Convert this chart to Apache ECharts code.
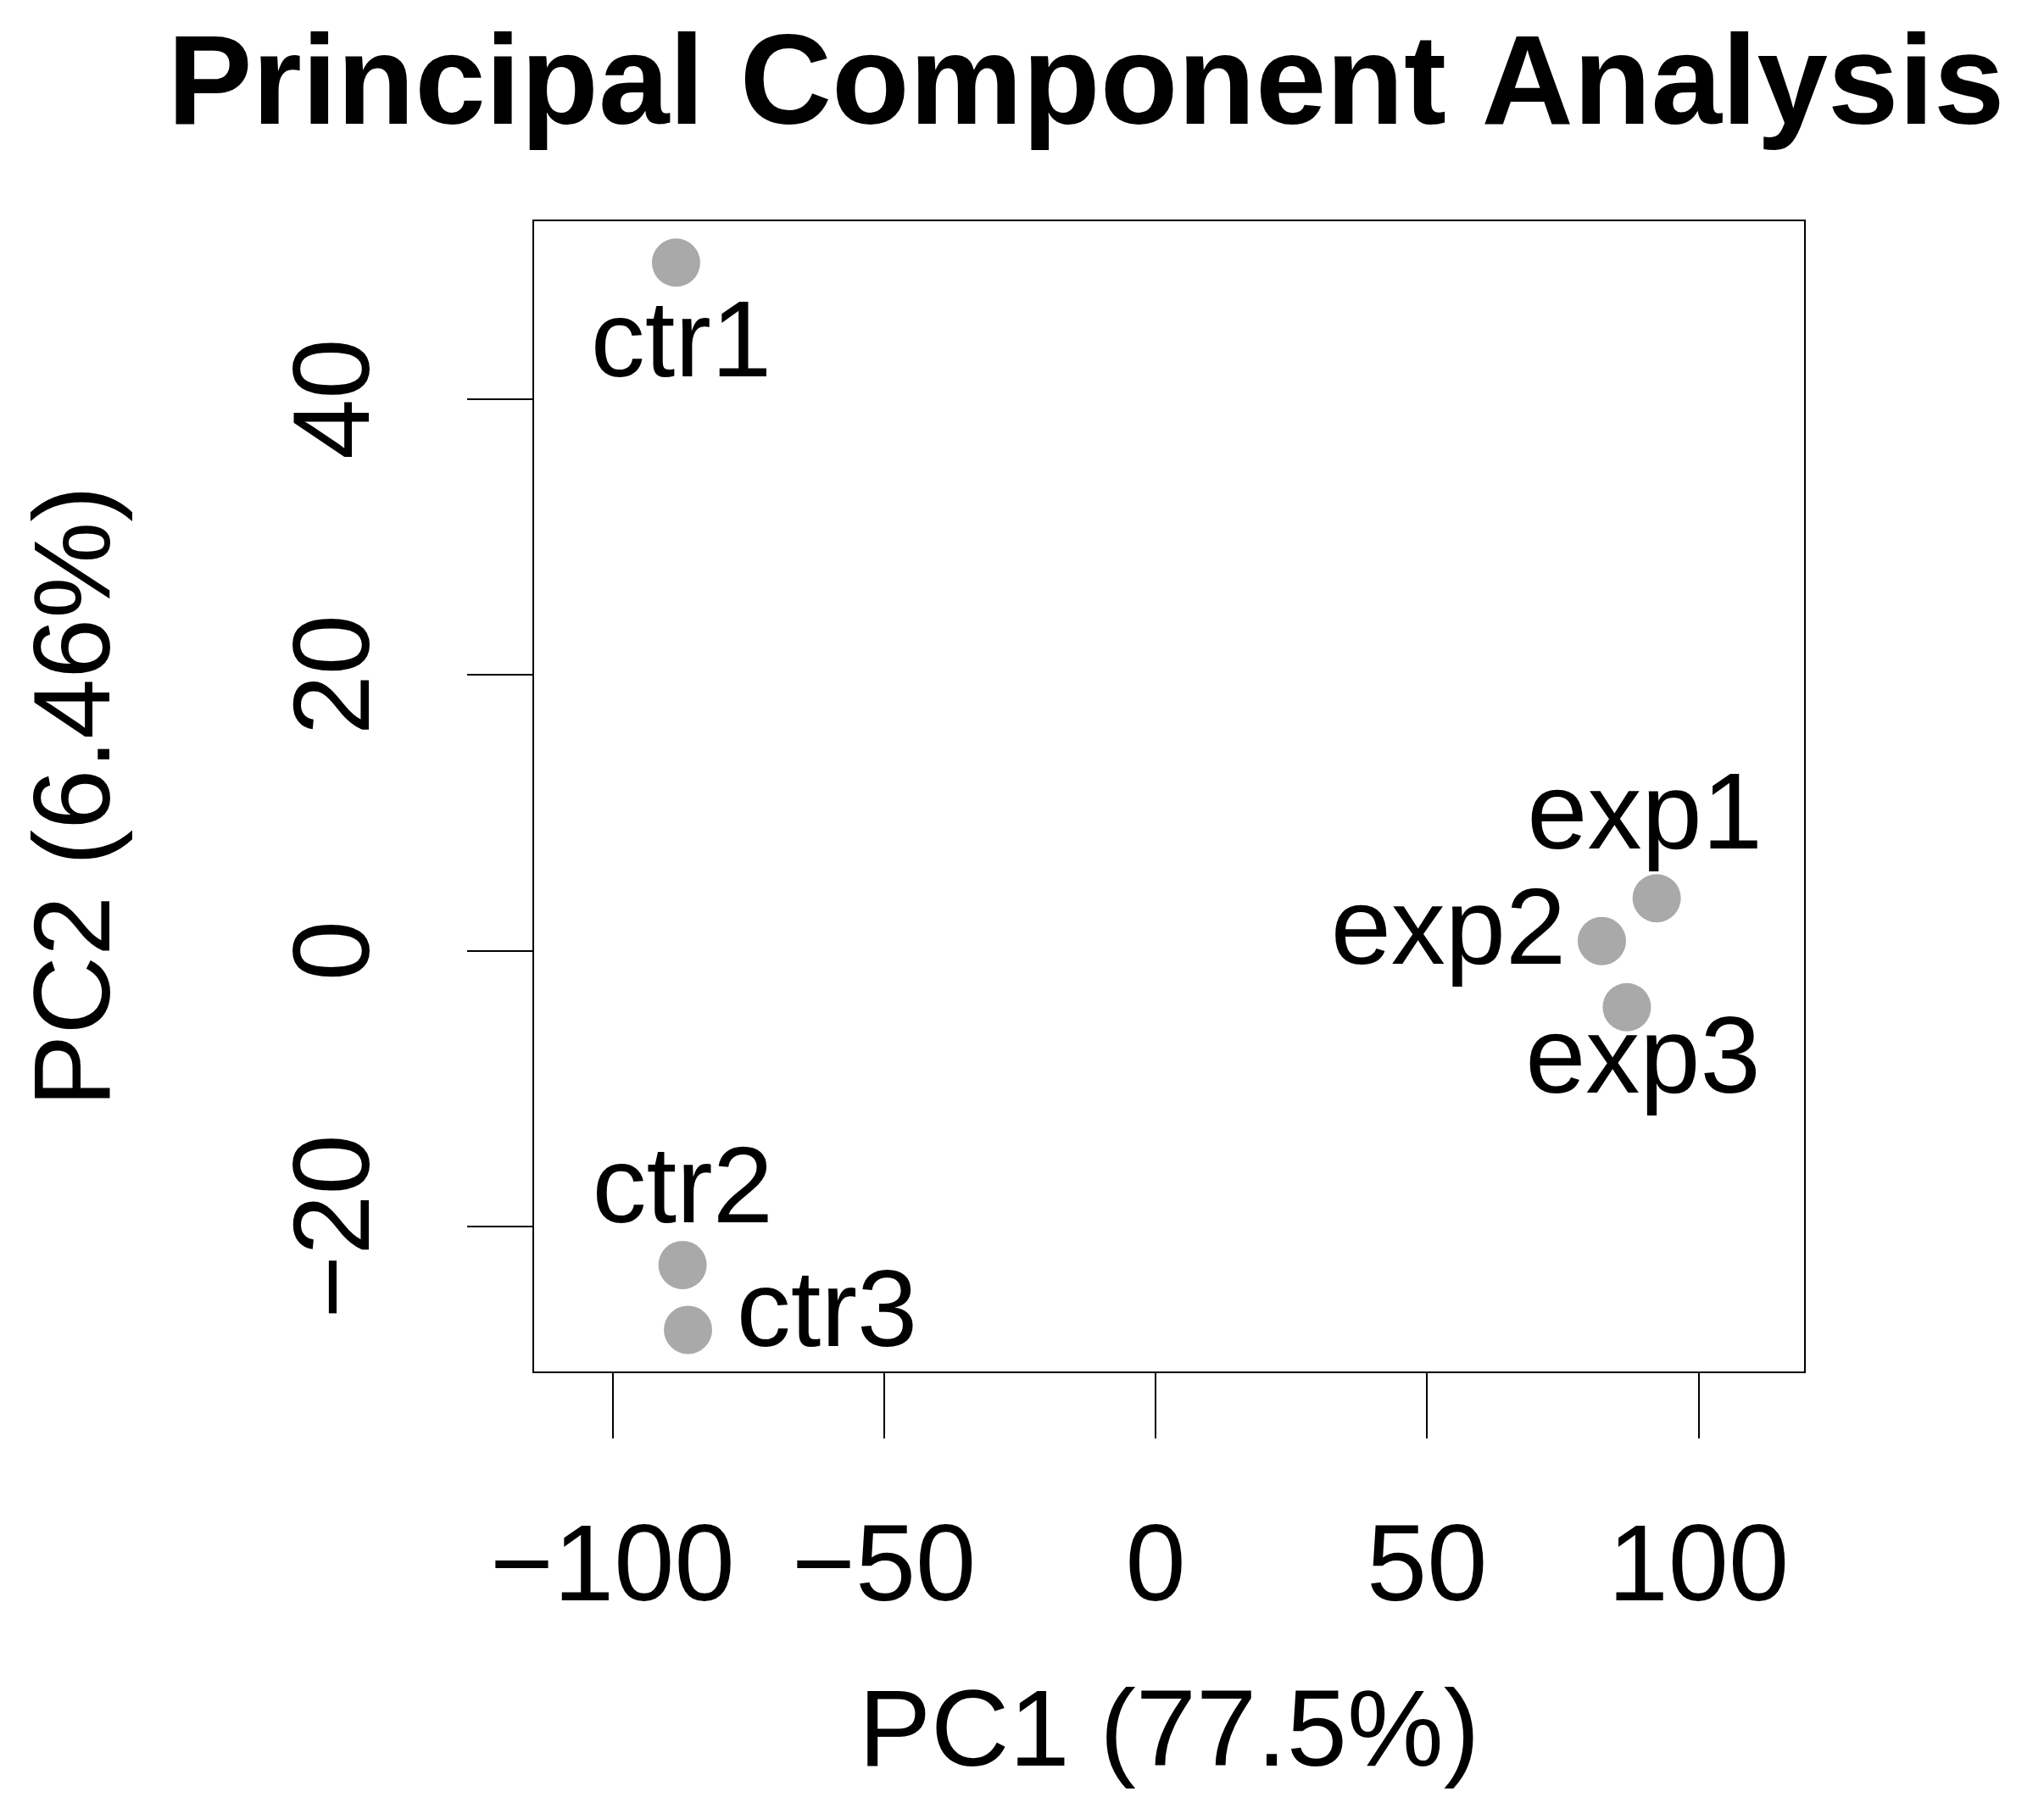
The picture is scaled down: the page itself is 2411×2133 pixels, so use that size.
<!DOCTYPE html>
<html>
<head>
<meta charset="utf-8">
<script src="https://cdn.jsdelivr.net/npm/echarts@6/dist/echarts.min.js"></script>
<style>
  html, body { margin: 0; padding: 0; background: #fff; }
  #chart { width: 2411px; height: 2133px; }
</style>
</head>
<body>
<div id="chart"></div>
<script>
// ---- data ----
const sampleNames = ['ctr1', 'ctr2', 'ctr3', 'exp1', 'exp2', 'exp3'];
const pc1Values = [-88.3, -87.1, -86.1, 92.3, 82.2, 86.8];
const pc2Values = [49.9, -22.8, -27.5, 3.8, 0.7, -4.1];
const xTickValues = [-100, -50, 0, 50, 100];
const yTickValues = [-20, 0, 20, 40];
const xRange = [-114.6, 119.6];
const yRange = [-30.58, 52.96];
const titleText = 'Principal Component Analysis';
const xName = 'PC1 (77.5%)';
const yName = 'PC2 (6.46%)';

// ---- label placement (style) ----
const labelOffsets = {
  ctr1: [6, 99], ctr2: [0, -86], ctr3: [164, -16],
  exp1: [-14, -94], exp2: [-181, -8], exp3: [19, 65]
};

const FONT = '"Liberation Sans", Arial, Helvetica, sans-serif';
const fmt = v => (v < 0 ? '\u2212' + Math.abs(v) : String(v));

const chart = echarts.init(document.getElementById('chart'), null, { renderer: 'canvas' });

const seriesData = sampleNames.map((n, i) => ({
  name: n,
  value: [pc1Values[i], pc2Values[i]],
  label: { offset: labelOffsets[n] }
}));

const option = {
  backgroundColor: '#ffffff',
  animation: false,
  graphic: [{
    type: 'text',
    x: 1281, y: 105,
    style: {
      text: titleText,
      font: 'bold 150px ' + FONT,
      fill: '#000',
      align: 'center',
      verticalAlign: 'middle'
    }
  }],
  grid: {
    left: 629, top: 260, width: 1500, height: 1359,
    show: true, borderColor: '#000', borderWidth: 2,
    backgroundColor: 'transparent'
  },
  xAxis: {
    type: 'value', min: xRange[0], max: xRange[1],
    axisLine: { show: false, onZero: false },
    splitLine: { show: false },
    axisTick: { show: true, inside: false, length: 78, customValues: xTickValues,
      lineStyle: { color: '#000', width: 2 } },
    axisLabel: { customValues: xTickValues, formatter: fmt, margin: 170,
      fontSize: 128, lineHeight: 128, fontFamily: FONT, color: '#000' },
    name: xName, nameLocation: 'middle', nameGap: 365,
    nameTextStyle: { fontSize: 128, lineHeight: 128, fontFamily: FONT, color: '#000' }
  },
  yAxis: {
    type: 'value', min: yRange[0], max: yRange[1],
    axisLine: { show: false, onZero: false },
    splitLine: { show: false },
    axisTick: { show: true, inside: false, length: 78, customValues: yTickValues,
      lineStyle: { color: '#000', width: 2 } },
    axisLabel: { customValues: yTickValues, formatter: fmt, margin: 165, rotate: 90,
      fontSize: 128, lineHeight: 128, fontFamily: FONT, color: '#000' },
    name: yName, nameLocation: 'middle', nameGap: 471, nameRotate: 90,
    nameTextStyle: { fontSize: 128, lineHeight: 128, fontFamily: FONT, color: '#000' }
  },
  series: [{
    type: 'scatter',
    symbol: 'circle',
    symbolSize: 57,
    itemStyle: { color: '#a9a9a9', opacity: 1 },
    label: {
      show: true, position: 'inside', formatter: '{b}',
      fontSize: 128, lineHeight: 128, fontFamily: FONT, color: '#000'
    },
    emphasis: { disabled: true },
    data: seriesData
  }]
};

chart.setOption(option);
</script>
</body>
</html>
